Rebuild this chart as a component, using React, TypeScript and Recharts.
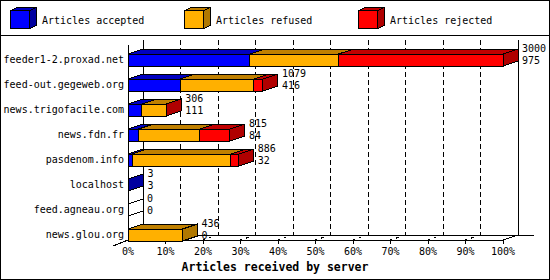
import { Bar, BarChart, CartesianGrid, Legend, XAxis, YAxis } from 'recharts';

const servers = [
  'feeder1-2.proxad.net',
  'feed-out.gegeweb.org',
  'news.trigofacile.com',
  'news.fdn.fr',
  'pasdenom.info',
  'localhost',
  'feed.agneau.org',
  'news.glou.org',
];
const accepted = [975, 416, 111, 84, 32, 3, 0, 0];
const refused = [710, 590, 193, 490, 790, 0, 0, 436];
const rejected = [1315, 73, 2, 241, 64, 0, 0, 0];

const series = [
  { key: 'accepted', name: 'Articles accepted', front: '#0000ff', top: '#0000c0', side: '#0000a0' },
  { key: 'refused', name: 'Articles refused', front: '#ffb000', top: '#c08000', side: '#b07800' },
  { key: 'rejected', name: 'Articles rejected', front: '#ff0000', top: '#c00000', side: '#b00000' },
];

const data = servers.map((name, i) => ({
  name,
  accepted: accepted[i],
  refused: refused[i],
  rejected: rejected[i],
  total: accepted[i] + refused[i] + rejected[i],
}));
const maxTotal = Math.max(...data.map((d) => d.total));
const ticks = Array.from({ length: 11 }, (_, i) => (maxTotal * i) / 10);

const FONT = '"DejaVu Sans Mono", monospace';
const DX = 15;
const DY = 5;

// each segment draws its front + top face, the last one also the end face and the numbers
const makeShape = (idx: number) => (props: any) => {
  const { x, y, width, height, payload } = props;
  const s = series[idx];
  const out = [];
  if (width > 0.01) {
    out.push(
      <polygon
        key="top"
        points={`${x},${y} ${x + DX},${y - DY} ${x + width + DX},${y - DY} ${x + width},${y}`}
        fill={s.top}
        stroke="#000"
      />
    );
    out.push(<rect key="front" x={x} y={y} width={width} height={height} fill={s.front} stroke="#000" />);
  }
  if (idx === series.length - 1) {
    const end = x + width;
    const last = [...series].reverse().find((ss) => payload[ss.key] > 0);
    out.push(
      <polygon
        key="side"
        points={`${end},${y} ${end + DX},${y - DY} ${end + DX},${y - DY + height} ${end},${y + height}`}
        fill={last ? last.side : '#fff'}
        stroke="#000"
      />
    );
    out.push(
      <text key="t1" x={end + DX + 4} y={y - 2} fontFamily={FONT} fontSize={10} fill="#000">
        {payload.total}
      </text>
    );
    out.push(
      <text key="t2" x={end + DX + 4} y={y + 10} fontFamily={FONT} fontSize={10} fill="#000">
        {payload.accepted}
      </text>
    );
  }
  return <g shapeRendering="crispEdges">{out}</g>;
};

const GridLine = (p: any) => {
  const { x1, y1, y2, index, x, width } = p;
  const back = y2 - 12;
  const front = y2 - 7;
  const items = [];
  if (index === 0) {
    items.push(<line key="bl" x1={x1 + DX} y1={y1 - 7} x2={x1 + DX} y2={back} />);
    items.push(<line key="fl" x1={x1} y1={y1 - 2} x2={x1} y2={front} />);
    items.push(<line key="fb" x1={x1} y1={front} x2={x + width} y2={front} />);
    items.push(<line key="bb" x1={x1 + DX} y1={back} x2={x + width + DX + 16} y2={back} />);
    items.push(<line key="dl" x1={x1 - 15} y1={front + 6} x2={x1} y2={front} />);
    items.push(<line key="br" x1={x + width + DX} y1={y1 - 7} x2={x + width + DX} y2={back} />);
    items.push(<line key="dr" x1={x + width} y1={front} x2={x + width + DX} y2={back} />);
  } else {
    items.push(<line key="tk" x1={x1} y1={front} x2={x1} y2={front + 4} />);
    if (index < ticks.length - 1) {
      items.push(<line key="gv" x1={x1 + DX} y1={y1 - 7} x2={x1 + DX} y2={back} strokeDasharray="5 3" />);
      items.push(<line key="gd" x1={x1 + DX} y1={back} x2={x1} y2={front} strokeDasharray="3 4" />);
    }
  }
  return (
    <g key={`g-${index}`} stroke="#000" strokeWidth={1} shapeRendering="crispEdges">
      {items}
    </g>
  );
};

const YTick = ({ x, y, payload }: any) => (
  <text x={x} y={y} dy="0.35em" textAnchor="end" fontFamily={FONT} fontSize={10} fill="#000">
    {payload.value}
  </text>
);

const XTick = ({ x, y, payload }: any) => (
  <text x={x} y={y + 8} textAnchor="middle" fontFamily={FONT} fontSize={10} fill="#000">
    {Math.round((payload.value / maxTotal) * 100)}%
  </text>
);

const Cube = ({ s }: any) => (
  <svg width={28} height={23} style={{ position: 'absolute', left: 0, top: 0 }} shapeRendering="crispEdges">
    <polygon points="0.5,3.5 7.5,0.5 26.5,0.5 19.5,3.5" fill={s.top} stroke="#000" />
    <polygon points="19.5,3.5 26.5,0.5 26.5,18.5 19.5,21.5" fill={s.side} stroke="#000" />
    <rect x={0.5} y={3.5} width={19} height={18} fill={s.front} stroke="#000" />
  </svg>
);

const LegendBox = ({ payload }: any) => (
  <div style={{ position: 'relative', width: 550, height: 36, borderBottom: '1px solid #000', boxSizing: 'border-box' }}>
    {(payload || []).map((entry: any, i: number) => {
      const s = series.find((ss) => ss.key === entry.dataKey) || series[i];
      return (
        <div key={s.key} style={{ position: 'absolute', left: 10 + i * 174, top: 7, height: 22 }}>
          <Cube s={s} />
          <span
            style={{
              position: 'absolute',
              left: 32,
              top: 6.5,
              fontFamily: FONT,
              fontSize: 10,
              lineHeight: '13px',
              whiteSpace: 'nowrap',
              color: '#000',
            }}
          >
            {entry.value}
          </span>
        </div>
      );
    })}
  </div>
);

const AxisTitle = () => (
  <text x={275} y={271} textAnchor="middle" fontFamily={FONT} fontSize={11.5} fontWeight="bold" fill="#000">
    Articles received by server
  </text>
);

export default function App() {
  return (
    <div style={{ position: 'absolute', left: 0, top: 0, width: 550, height: 280, background: '#fff' }}>
      <BarChart
        width={550}
        height={280}
        data={data}
        layout="vertical"
        margin={{ top: 11, right: 47, bottom: 0, left: 0 }}
      >
        <CartesianGrid horizontal={false} vertical={GridLine} />
        <XAxis
          type="number"
          domain={[0, maxTotal]}
          ticks={ticks}
          interval={0}
          axisLine={false}
          tickLine={false}
          tickSize={0}
          tickMargin={0}
          height={33}
          tick={XTick}
          label={{ content: AxisTitle }}
        />
        <YAxis
          type="category"
          dataKey="name"
          width={128}
          axisLine={false}
          tickLine={false}
          tickSize={0}
          tickMargin={4}
          interval={0}
          tick={YTick}
        />
        <Legend
          verticalAlign="top"
          content={LegendBox}
          wrapperStyle={{ top: 0, left: 0, width: 550, height: 36 }}
        />
        {series.map((s, i) => (
          <Bar
            key={s.key}
            dataKey={s.key}
            name={s.name}
            stackId="a"
            fill={s.front}
            barSize={12}
            isAnimationActive={false}
            shape={makeShape(i)}
          />
        ))}
      </BarChart>
      <div
        style={{
          position: 'absolute',
          left: 0,
          top: 0,
          width: 550,
          height: 280,
          border: '1px solid #000',
          boxSizing: 'border-box',
          pointerEvents: 'none',
        }}
      />
    </div>
  );
}
